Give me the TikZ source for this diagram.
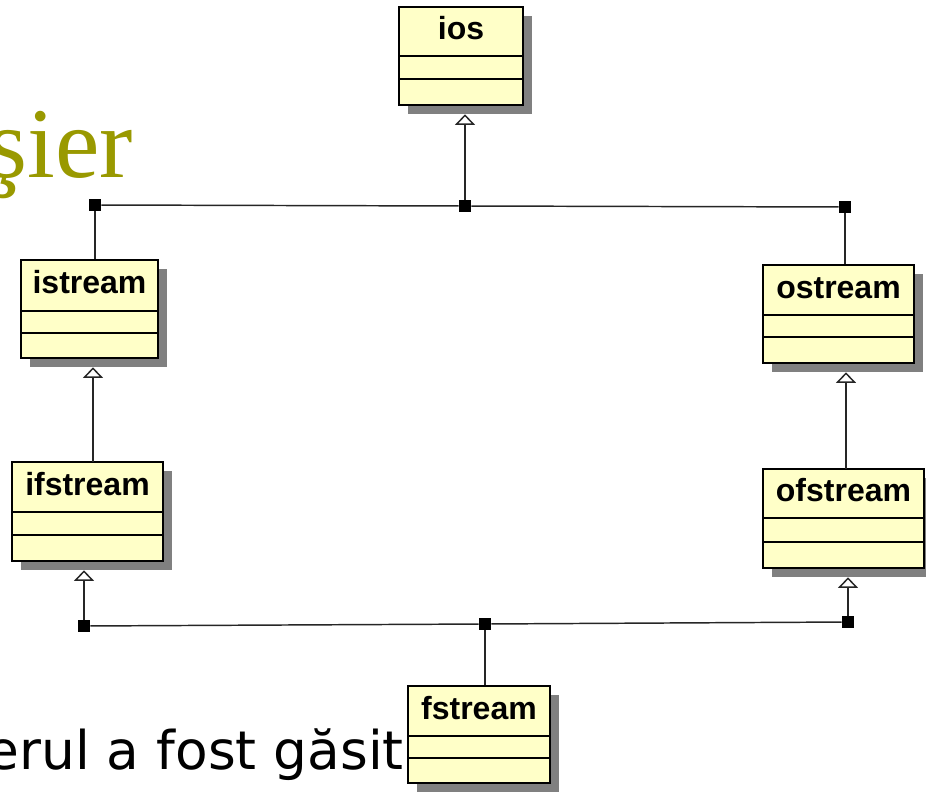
\documentclass[tikz,border=0pt]{standalone}
\usepackage{fontspec}
\setmainfont{Liberation Serif}
\newfontfamily\boxfont{Liberation Sans}
\newfontfamily\bodyfont{DejaVu Sans}
\usetikzlibrary{arrows.meta,fit}
\definecolor{classfill}{RGB}{255,255,200}
\definecolor{shadowgray}{RGB}{128,128,128}
\definecolor{titleolive}{RGB}{153,153,0}
\tikzset{
  classbox/.style={draw=black, line width=1.3pt, fill=classfill, inner sep=0pt},
  shadowbox/.style={fill=shadowgray, inner sep=0pt},
  complines/.style={line width=1.1pt},
  classname/.style={font=\boxfont\bfseries\fontsize{24}{28}\selectfont, inner sep=0pt},
  junc/.style={fill=black, minimum size=9pt, inner sep=0pt},
  conn/.style={line width=1.1pt, draw=black!85},
  gen/.style={conn, -{Triangle[open, length=8pt, width=15pt, fill=white]}}
}
\newcommand{\umlclass}[8]{%
  \node[shadowbox, fit={(#2+9,#3+9) (#4+9,#5+9)}] (#1s) {};
  \node[classbox, fit={(#2,#3) (#4,#5)}] (#1) {};
  \draw[complines] (#2,#6) -- (#4,#6) (#2,#7) -- (#4,#7);
  \pgfmathsetmacro\umlcx{(#2+#4)/2}
  \pgfmathsetmacro\umlby{(#3+#6)/2+8}
  \node[classname, anchor=base] (#1name) at (\umlcx,\umlby) {#8};
}
\begin{document}
\begin{tikzpicture}[x=0.75pt, y=-0.75pt]
\useasboundingbox (0,0) rectangle (926,792);
\clip (0,0) rectangle (926,792);
\fill[white] (0,0) rectangle (926,792);

% titles
\node[anchor=base east, inner sep=0pt, text=titleolive, font=\fontsize{75}{80}\selectfont] (title) at (133,178) {şier};
\node[anchor=base east, inner sep=0pt, font=\bodyfont\fontsize{40}{48}\selectfont] (body) at (404,769) {erul a fost găsit};

% classes
\umlclass{ios}{399}{7}{523}{105}{56}{79}{ios}
\umlclass{istream}{21}{260}{158}{358}{311}{333}{istream}
\umlclass{ifstream}{12}{462}{163}{561}{512}{535}{ifstream}
\umlclass{ostream}{763}{265}{914}{363}{315}{337}{ostream}
\umlclass{ofstream}{763}{469}{924}{568}{518}{542}{ofstream}
\umlclass{fstream}{408}{686}{550}{783}{736}{758}{fstream}

% junctions
\node[junc] (jt1) at (95,205) {};
\node[junc] (jt2) at (465,206) {};
\node[junc] (jt3) at (845,207) {};
\node[junc] (jb1) at (84,626) {};
\node[junc] (jb2) at (485,624) {};
\node[junc] (jb3) at (848,622) {};
\coordinate (cif) at (93,462);
\coordinate (cof) at (846,469);

% connectors
\draw[conn] (jt1) -- (jt2) -- (jt3);
\draw[gen] (jt2) -- (jt2 |- ioss.south);
\draw[conn] (jt1) -- (jt1 |- istream.north);
\draw[conn] (jt3) -- (jt3 |- ostream.north);
\draw[gen] (cif) -- (cif |- istreams.south);
\draw[gen] (cof) -- (cof |- ostreams.south);
\draw[conn] (jb1) -- (jb2) -- (jb3);
\draw[gen] (jb1) -- (jb1 |- ifstreams.south);
\draw[gen] (jb3) -- (jb3 |- ofstreams.south);
\draw[conn] (jb2) -- (jb2 |- fstream.north);
\end{tikzpicture}
\end{document}
